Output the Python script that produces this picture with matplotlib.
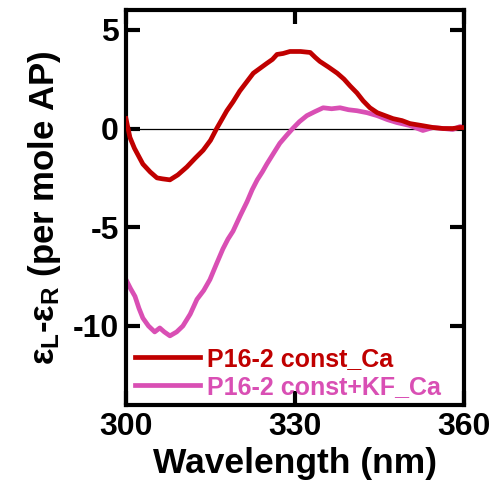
"""CD spectrum: P16-2 const with Ca, with and without KF."""

import matplotlib

matplotlib.use("Agg")
import matplotlib.pyplot as plt
import numpy as np

# red trace, P16-2 const_Ca
wl_ca = [300.0, 300.7, 301.5, 303.0, 304.3, 305.5, 306.5, 307.8, 309.2, 310.8,
         312.3, 313.7, 315.0, 316.1, 317.0, 317.9, 319.0, 320.2, 321.4, 322.6,
         323.8, 325.0, 326.0, 326.8, 327.9, 329.1, 331.0, 332.7, 333.6, 334.4,
         336.0, 337.5, 338.7, 339.8, 341.0, 342.1, 343.3, 344.6, 346.0, 347.4,
         349.0, 350.4, 352.5, 354.5, 356.3, 358.0, 359.3, 360.0]
cd_ca = [0.5, -0.45, -1.0, -1.8, -2.2, -2.5, -2.55, -2.6, -2.35, -1.95,
         -1.5, -1.1, -0.6, 0.0, 0.45, 0.9, 1.35, 1.9, 2.35, 2.8,
         3.05, 3.3, 3.5, 3.75, 3.8, 3.9, 3.9, 3.85, 3.6, 3.4,
         3.1, 2.8, 2.5, 2.15, 1.8, 1.4, 1.05, 0.8, 0.65, 0.5,
         0.4, 0.25, 0.15, 0.05, 0.0, 0.0, 0.05, 0.05]

# magenta trace, P16-2 const+KF_Ca
wl_kf = [300.0, 300.8, 301.6, 302.3, 303.0, 304.0, 305.1, 306.0, 306.8, 307.8,
         309.0, 310.1, 311.4, 312.6, 313.8, 314.9, 316.0, 317.2, 318.1, 319.0,
         320.3, 321.5, 322.4, 323.3, 324.2, 325.0, 326.2, 327.3, 328.5, 329.6,
         330.8, 332.1, 333.5, 335.0, 336.5, 338.0, 339.5, 341.0, 342.8, 344.6,
         346.4, 348.1, 350.4, 352.7, 354.5, 356.3, 358.0, 359.3, 360.0]
cd_kf = [-7.65, -8.1, -8.5, -9.1, -9.6, -10.0, -10.3, -10.1, -10.3, -10.5,
         -10.3, -10.0, -9.4, -8.65, -8.2, -7.65, -6.9, -6.1, -5.6, -5.2,
         -4.4, -3.7, -3.1, -2.6, -2.2, -1.8, -1.25, -0.75, -0.35, 0.0,
         0.35, 0.65, 0.85, 1.05, 1.0, 1.05, 0.95, 0.9, 0.8, 0.65,
         0.45, 0.3, 0.15, -0.1, 0.05, 0.0, -0.05, 0.1, 0.05]

label_ca = "P16-2 const_Ca"
label_kf = "P16-2 const+KF_Ca"
color_ca = "#C00000"
color_kf = "#D94FB4"

x_ticks = [300, 330, 360]
y_ticks = [-10, -5, 0, 5]

plt.rcParams["font.family"] = ["Liberation Sans", "DejaVu Sans"]
plt.rcParams["font.weight"] = "bold"
plt.rcParams["axes.unicode_minus"] = False
plt.rcParams["mathtext.fontset"] = "custom"
plt.rcParams["mathtext.rm"] = "Liberation Sans:bold"
plt.rcParams["mathtext.it"] = "Liberation Sans:bold"
plt.rcParams["mathtext.bf"] = "Liberation Sans:bold"

fig = plt.figure(figsize=(4.95, 4.91), dpi=100)
ax = fig.add_axes([0.2545, 0.1752, 0.6829, 0.8044])

ax.axhline(0, color="black", lw=0.9, zorder=1)
ax.plot(wl_ca, cd_ca, color=color_ca, lw=3.4, label=label_ca, zorder=3)
ax.plot(wl_kf, cd_kf, color=color_kf, lw=3.4, label=label_kf, zorder=2)

ax.set_xlim(300, 360)
ax.set_ylim(-14, 6)
ax.set_xticks(x_ticks)
ax.set_yticks(y_ticks)
ax.tick_params(direction="in", length=10, width=3, labelsize=23,
               top=True, right=True, pad=5)
for lab in ax.get_xticklabels() + ax.get_yticklabels():
    lab.set_fontweight("bold")
for sp in ax.spines.values():
    sp.set_linewidth(3)

ax.set_xlabel("Wavelength (nm)", fontsize=25.5, fontweight="bold", labelpad=4)
ax.set_ylabel(r"$\varepsilon_L$-$\varepsilon_R$ (per mole AP)",
              fontsize=25, fontweight="bold", labelpad=7)

leg = ax.legend(loc="lower left", bbox_to_anchor=(-0.003, -0.01), frameon=False,
                handlelength=2.6, handletextpad=0.3,
                labelspacing=0.15, borderaxespad=0.0,
                labelcolor="linecolor", prop={"weight": "bold", "size": 18})

fig.savefig("out.png", dpi=100)
